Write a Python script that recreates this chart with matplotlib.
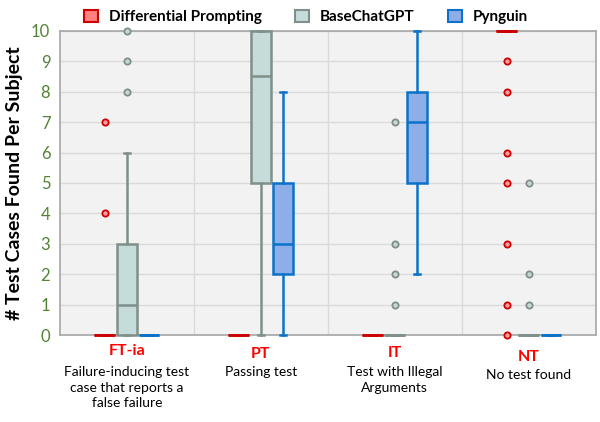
import matplotlib
matplotlib.use('Agg')
import matplotlib.pyplot as plt
from matplotlib.patches import Patch

plt.rcParams['font.family'] = ['Lato', 'DejaVu Sans']

categories = ['FT-ia', 'PT', 'IT', 'NT']
descriptions = ['Failure-inducing test\ncase that reports a\nfalse failure',
                'Passing test',
                'Test with Illegal\nArguments',
                'No test found']
series = ['Differential Prompting', 'BaseChatGPT', 'Pynguin']

# box stats per series, one entry per category
dp_q1 = [0, 0, 0, 10]
dp_med = [0, 0, 0, 10]
dp_q3 = [0, 0, 0, 10]
dp_lo = [0, 0, 0, 10]
dp_hi = [0, 0, 0, 10]
dp_fliers = [[4, 7], [], [], [9, 8, 6, 5, 3, 1, 0]]

gpt_q1 = [0, 5, 0, 0]
gpt_med = [1, 8.5, 0, 0]
gpt_q3 = [3, 10, 0, 0]
gpt_lo = [0, 0, 0, 0]
gpt_hi = [6, 10, 0, 0]
gpt_fliers = [[8, 9, 10], [], [1, 2, 3, 7], [1, 2, 5]]

pyn_q1 = [0, 2, 5, 0]
pyn_med = [0, 3, 7, 0]
pyn_q3 = [0, 5, 8, 0]
pyn_lo = [0, 0, 2, 0]
pyn_hi = [0, 8, 10, 0]
pyn_fliers = [[], [], [], []]

edge_colors = ['#cc0000', '#7f8f8a', '#0b72c9']
face_colors = ['#ff8080', '#c5dcdb', '#8eaee8']
flier_faces = ['#ff9a9a', '#c8d6d4', '#9fbcec']


def make_stats(q1, med, q3, lo, hi, fl):
    stats = []
    for i in range(len(q1)):
        stats.append({'q1': q1[i], 'med': med[i], 'q3': q3[i],
                      'whislo': lo[i], 'whishi': hi[i], 'fliers': fl[i]})
    return stats


all_stats = [
    make_stats(dp_q1, dp_med, dp_q3, dp_lo, dp_hi, dp_fliers),
    make_stats(gpt_q1, gpt_med, gpt_q3, gpt_lo, gpt_hi, gpt_fliers),
    make_stats(pyn_q1, pyn_med, pyn_q3, pyn_lo, pyn_hi, pyn_fliers),
]

fig = plt.figure(figsize=(6, 4.22), dpi=100)
ax = fig.add_axes([0.1, 0.206, 0.893, 0.721])
ax.set_facecolor('#f2f2f2')

offsets = [-0.165, 0.0, 0.165]
width = 0.155
for k in range(3):
    pos = [i + offsets[k] for i in range(len(categories))]
    ec = edge_colors[k]
    art = ax.bxp(all_stats[k], positions=pos, widths=width, patch_artist=True,
                 capwidths=0.04,
                 boxprops=dict(facecolor=face_colors[k], edgecolor=ec, linewidth=1.8),
                 medianprops=dict(color=ec, linewidth=1.8),
                 whiskerprops=dict(color=ec, linewidth=1.8),
                 capprops=dict(color=ec, linewidth=1.8),
                 flierprops=dict(marker='o', markersize=4.5, markeredgewidth=1.3,
                                 markeredgecolor=ec, markerfacecolor=flier_faces[k]),
                 manage_ticks=False)
    for group in art.values():
        for a in group:
            a.set_clip_on(False)
            a.set_zorder(3)

ax.set_xlim(-0.5, 3.5)
ax.set_ylim(0, 10)
ax.set_yticks(range(0, 11))
ax.tick_params(axis='y', colors='#548235', labelsize=12, length=0, pad=7)
for lbl in ax.get_yticklabels():
    lbl.set_color('#548235')
ax.set_xticks([0.5, 1.5, 2.5])
ax.tick_params(axis='x', length=0, labelbottom=False)
ax.grid(True, color='#dadada', linewidth=1)
ax.set_axisbelow(True)
for s in ax.spines.values():
    s.set_color('#a6a6a6')
    s.set_linewidth(1.2)

ax.set_ylabel('# Test Cases Found Per Subject', fontsize=14, fontweight='bold',
              labelpad=6)

# small vertical shifts of the category captions, as in the original
label_y = [-0.3, -0.38, -0.35, -0.5]
desc_y = [-1.02, -1.02, -1.02, -1.12]
for i in range(len(categories)):
    ax.text(i, label_y[i], categories[i], ha='center', va='top',
            color='#ff0000', fontsize=11.5, fontweight='bold')
    ax.text(i, desc_y[i], descriptions[i], ha='center', va='top',
            color='black', fontsize=10, linespacing=1.35)

handles = [Patch(facecolor=face_colors[k], edgecolor=edge_colors[k], linewidth=1.5)
           for k in range(3)]
fig.legend(handles, series, loc='upper center', bbox_to_anchor=(0.51, 1.01), ncol=3,
           frameon=False, prop=dict(weight='bold', size=11), handlelength=0.9,
           handleheight=0.9, columnspacing=2.2, handletextpad=0.7)

fig.savefig('out.png', dpi=100)
